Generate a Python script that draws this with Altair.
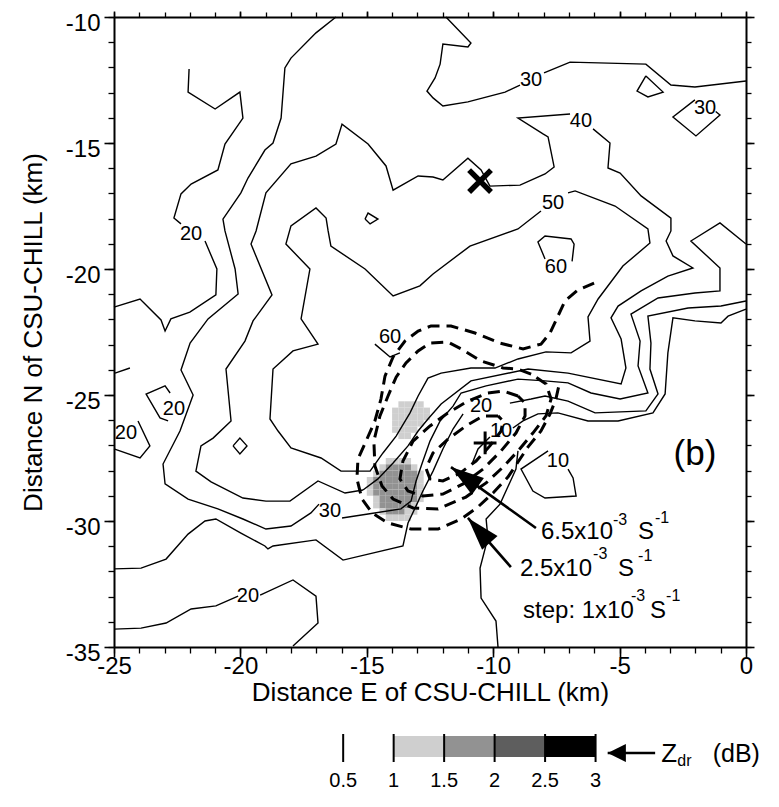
import altair as alt
import pandas as pd

FONT = "Liberation Sans"

# ---------------- solid reflectivity contours (km East, km North) ----------------
c20_nw_a = [(-22.03,-12.06),(-22.07,-12.98),(-21.00,-13.65),(-20.02,-12.98),(-19.90,-14.01),(-20.61,-15.04),
            (-20.89,-16.07),(-21.95,-16.63),(-22.35,-17.02),(-22.63,-17.98),(-22.35,-18.21)]
c20_nw_b = [(-21.40,-18.89),(-20.93,-20.0),(-20.97,-21.03),(-22.0,-21.71),(-22.75,-21.98),(-22.98,-22.46),
            (-23.14,-22.02),(-23.97,-21.19),(-25.0,-21.51)]
c30_w_a = [(-16.22,-10.0),(-17.01,-10.63),(-18.0,-11.63),(-18.24,-12.02),(-18.39,-14.01),(-18.71,-15.0),
           (-19.03,-15.28),(-19.70,-16.39),(-19.98,-16.98),(-20.69,-18.02),(-20.61,-18.49),(-20.21,-20.0),
           (-20.09,-20.99),(-21.28,-21.98),(-21.99,-22.94),(-22.35,-24.01),(-21.87,-25.0),(-22.39,-26.43),
           (-23.06,-27.74),(-22.98,-28.53),(-22.07,-29.13),(-20.89,-29.52),(-19.90,-29.92),(-18.99,-30.32),
           (-18.0,-30.2),(-17.21,-29.68),(-16.89,-29.33)]
c30_w_b = [(-15.98,-29.88),(-14.95,-29.72),(-13.65,-29.52),(-13.25,-29.21),(-13.05,-28.41),(-12.78,-27.62),
           (-12.50,-26.83),(-12.10,-26.03),(-11.59,-25.44),(-11.27,-24.92),(-10.28,-24.64),(-9.02,-24.37),
           (-7.95,-24.44),(-7.04,-24.52),(-6.13,-24.92),(-4.98,-25.16),(-3.88,-24.92),(-4.27,-23.85),
           (-4.19,-22.86),(-4.55,-21.79),(-3.48,-21.15),(-2.02,-20.95),(-1.03,-20.87),(-1.03,-19.96),
           (-2.18,-18.89),(-1.03,-18.17),(0.0,-19.01)]
c40_a = [(-15.15,-28.77),(-15.86,-28.89),(-16.93,-28.41),(-18.04,-29.21),(-18.99,-29.21),(-19.90,-29.09),
         (-21.16,-28.45),(-21.76,-28.02),(-21.56,-27.02),(-21.08,-26.71),(-20.37,-26.03),(-20.57,-23.97),
         (-19.82,-22.86),(-19.50,-22.06),(-18.75,-21.03),(-19.58,-19.01),(-19.38,-18.49),(-18.99,-16.98),
         (-18.0,-15.83),(-17.01,-15.52),(-16.22,-15.04),(-15.98,-14.25),(-14.95,-15.04),(-14.24,-15.91),
         (-13.96,-16.87),(-12.97,-16.31),(-12.38,-16.35),(-11.99,-16.47),(-11.0,-15.6),(-10.48,-16.07),
         (-10.13,-16.71),(-8.94,-16.67),(-7.95,-16.23),(-7.59,-15.95),(-7.83,-14.76),(-8.03,-14.64),
         (-9.02,-14.01),(-6.96,-13.85)]
c40_b = [(-6.05,-14.44),(-5.38,-15.0),(-5.46,-15.99),(-4.98,-16.19),(-4.15,-17.10),(-2.97,-17.98),
         (-2.97,-18.49),(-3.16,-18.89),(-2.89,-19.48),(-2.10,-19.96),(-3.09,-20.28),(-4.15,-20.87),
         (-5.06,-21.47),(-5.34,-21.94),(-4.94,-22.78),(-4.75,-23.93),(-4.94,-24.56),(-7.04,-24.13),
         (-8.62,-23.97),(-10.88,-24.44),(-12.06,-25.36),(-12.58,-25.95),(-12.97,-26.43),(-13.37,-27.02),
         (-13.96,-27.70),(-14.56,-28.33),(-15.15,-28.77)]
c50 = [(-7.04,-16.98),(-6.76,-16.90),(-5.18,-17.5),(-3.88,-18.41),(-3.80,-18.97),(-4.87,-19.88),(-5.85,-21.19),
       (-6.25,-21.90),(-6.17,-22.86),(-6.92,-23.33),(-7.91,-23.29),(-9.02,-23.57),(-9.93,-23.93),(-10.88,-23.93),
       (-12.06,-24.13),(-12.58,-24.33),(-12.97,-25.04),(-13.29,-25.71),(-13.84,-26.63),(-14.36,-27.30),
       (-14.87,-28.02),(-16.02,-28.02),(-16.81,-27.5),(-18.0,-27.1),(-18.51,-26.43),(-18.83,-25.95),
       (-18.71,-23.97),(-17.92,-23.25),(-16.93,-22.98),(-17.60,-21.98),(-17.25,-20.0),(-18.20,-19.01),
       (-18.0,-18.29),(-17.01,-17.58),(-16.61,-17.98),(-16.53,-18.49),(-16.42,-19.09),(-15.07,-20.0),
       (-13.96,-21.07),(-12.90,-20.67),(-12.38,-20.20),(-10.92,-19.09),(-9.02,-18.41),(-8.11,-17.70)]
c60_cell = [(-7.95,-19.60),(-8.23,-18.93),(-7.95,-18.69),(-6.92,-18.81),(-6.80,-19.01),(-6.88,-19.70)]
c60_core = [(-14.68,-22.98),(-14.08,-23.49),(-13.69,-23.33)]
c30_n_a = [(-11.87,-10.0),(-10.88,-11.03),(-11.0,-11.19),(-11.99,-11.07),(-12.10,-11.87),(-12.30,-12.42),
           (-12.62,-12.94),(-12.38,-13.21),(-11.99,-13.53),(-11.0,-13.37),(-9.53,-12.98),(-8.94,-12.70)]
c30_n_b = [(-7.99,-12.22),(-6.96,-11.79),(-3.96,-11.87),(-2.97,-12.70),(-2.02,-12.78),(0.0,-12.54)]
c30_tri = [(-3.96,-12.34),(-4.31,-12.94),(-3.88,-13.17),(-3.28,-12.98),(-3.96,-12.34)]
c30_dia = [(-2.02,-13.29),(-2.89,-13.97),(-1.98,-14.72),(-1.03,-13.89),(-1.2,-13.75)]
c20_poly = [(-22.78,-24.92),(-22.98,-24.64),(-23.73,-24.96),(-23.18,-25.91),(-22.86,-26.03)]
c20_edge = [(-24.05,-26.03),(-23.58,-27.02),(-23.97,-27.5),(-25.0,-27.14)]
c20_arc = [(-24.96,-24.13),(-24.37,-23.93)]
c20_s_a = [(-25.0,-31.90),(-23.93,-31.87),(-22.94,-31.51),(-22.07,-30.52),(-21.40,-30.0),(-20.97,-29.92),
           (-19.98,-30.48),(-19.03,-30.99),(-18.91,-31.11),(-18.71,-30.99),(-17.01,-30.75),(-15.94,-31.55),
           (-13.57,-30.99),(-13.37,-30.08),(-13.05,-29.40),(-12.78,-28.81),(-12.38,-28.02),(-11.99,-27.14),
           (-11.59,-26.35),(-11.19,-25.75)]
c20_s_b = [(-9.34,-25.32),(-8.50,-25.16),(-7.95,-25.04),(-7.04,-25.24),(-5.97,-25.71),(-3.96,-25.63),
           (-3.48,-24.96),(-3.80,-23.97),(-3.76,-22.94),(-3.88,-21.87),(-2.29,-21.55),(-0.99,-21.47),(0.0,-21.27)]
c10_a = [(0.0,-21.59),(-0.71,-21.87),(-0.99,-22.14),(-2.02,-22.06),(-2.89,-21.94),(-3.09,-23.33),(-3.20,-24.96),
         (-3.68,-25.71),(-5.06,-26.03),(-6.25,-26.03),(-7.44,-25.71),(-8.23,-25.75),(-8.82,-26.03),(-9.22,-26.31)]
c10_b = [(-10.13,-26.67),(-10.60,-27.14),(-10.84,-27.74)]
c10_south = [(-9.81,-35.0),(-9.89,-33.97),(-10.48,-33.06),(-10.52,-31.87),(-10.21,-30.67),(-10.28,-29.92),
             (-9.73,-29.33),(-9.10,-27.94),(-9.02,-27.22)]
c10_cell = [(-7.83,-27.22),(-8.90,-27.94),(-8.43,-28.81),(-7.95,-29.09),(-6.72,-29.01),(-6.84,-28.29),(-7.04,-27.94)]
c20_b_a = [(-25.0,-34.29),(-23.93,-34.25),(-22.94,-34.05),(-21.95,-33.49),(-20.97,-33.37),(-20.09,-32.98)]
c20_b_b = [(-19.22,-32.94),(-17.92,-32.34),(-17.01,-32.98),(-16.93,-34.05),(-17.92,-34.96)]
dia_w = [(-20.29,-27.02),(-20.02,-26.71),(-19.74,-27.02),(-20.02,-27.34),(-20.29,-27.02)]
dia_n = [(-15.07,-18.02),(-14.95,-17.78),(-14.56,-18.02),(-14.87,-18.21),(-15.07,-18.02)]

solid_lines = {
    "c20_nw_a": c20_nw_a, "c20_nw_b": c20_nw_b, "c30_w_a": c30_w_a, "c30_w_b": c30_w_b,
    "c40_a": c40_a, "c40_b": c40_b, "c50": c50, "c60_cell": c60_cell, "c60_core": c60_core,
    "c30_n_a": c30_n_a, "c30_n_b": c30_n_b, "c30_tri": c30_tri, "c30_dia": c30_dia,
    "c20_poly": c20_poly, "c20_edge": c20_edge, "c20_arc": c20_arc, "c20_s_a": c20_s_a,
    "c20_s_b": c20_s_b, "c10_a": c10_a, "c10_b": c10_b, "c10_south": c10_south,
    "c10_cell": c10_cell, "c20_b_a": c20_b_a, "c20_b_b": c20_b_b, "dia_w": dia_w, "dia_n": dia_n,
}

# ---------------- dashed vorticity contours ----------------
d_25 = [(-6.01,-20.56),(-6.65,-20.83),(-7.16,-21.27),(-7.44,-21.87),(-7.75,-22.54),(-8.11,-22.98),(-8.82,-23.17),
        (-9.73,-22.94),(-10.72,-22.54),(-11.67,-22.26),(-12.46,-22.26),(-12.97,-22.46),(-13.49,-22.86),
        (-13.96,-23.49),(-14.28,-24.25),(-14.44,-25.16),(-14.68,-26.03),(-15.03,-26.83),(-15.35,-27.54),
        (-15.39,-28.33),(-15.19,-29.13),(-14.79,-29.68),(-14.16,-30.08),(-13.25,-30.32),(-12.18,-30.32),
        (-11.27,-29.92),(-10.60,-29.44),(-9.97,-28.85),(-9.41,-28.25),(-9.02,-27.66),(-8.62,-27.06),
        (-8.11,-26.43),(-7.75,-25.75),(-7.52,-25.16),(-7.36,-24.44)]
d_35 = [(-8.50,-24.17),(-9.02,-23.97),(-9.61,-23.93),(-10.48,-23.65),(-11.27,-23.17),(-11.79,-22.90),
        (-12.50,-22.94),(-12.97,-23.25),(-13.45,-23.73),(-13.84,-24.29),(-14.16,-25.04),(-14.48,-25.83),
        (-14.72,-26.83),(-14.68,-27.82),(-14.40,-28.61),(-13.96,-29.13),(-13.17,-29.48),(-12.18,-29.52),
        (-11.08,-29.05),(-10.28,-28.49),(-9.61,-27.86),(-9.02,-27.22),(-8.43,-26.51),(-7.91,-25.83),
        (-7.71,-25.16),(-7.91,-24.56),(-8.50,-24.17)]
d_45 = [(-9.02,-25.04),(-9.61,-24.84),(-10.21,-24.92),(-11.0,-25.24),(-11.79,-25.71),(-12.50,-26.23),
        (-13.17,-26.83),(-13.57,-27.62),(-13.69,-28.33),(-13.37,-28.81),(-12.78,-29.01),(-11.99,-28.93),
        (-11.19,-28.53),(-10.40,-27.94),(-9.69,-27.22),(-9.10,-26.51),(-8.74,-25.83),(-8.74,-25.32),(-9.02,-25.04)]
d_55 = [(-9.81,-25.83),(-10.40,-25.83),(-11.08,-26.23),(-11.79,-26.75),(-12.38,-27.30),(-12.66,-27.90),
        (-12.50,-28.33),(-11.99,-28.41),(-11.31,-28.10),(-10.68,-27.62),(-10.13,-27.02),(-9.69,-26.43),
        (-9.61,-26.03),(-9.81,-25.83)]
dashed_lines = {"d_25": d_25, "d_35": d_35, "d_45": d_45, "d_55": d_55}

# ---------------- contour labels ----------------
lab_text = ["20", "20", "20", "30", "20", "30", "30", "40", "50", "60", "60", "20", "10", "10"]
lab_x = [-21.95, -22.63, -24.53, -16.46, -19.70, -8.50, -1.62, -6.53, -7.63, -7.52, -14.08, -10.48, -9.69, -7.44]
lab_y = [-18.61, -25.56, -26.51, -29.60, -32.98, -12.50, -13.61, -14.13, -17.38, -19.92, -22.70, -25.44, -26.43, -27.62]

# ---------------- Zdr field (dB), 0.25 km cells ----------------
zdr_xc = [-14.875, -14.625, -14.375, -14.125, -13.875, -13.625, -13.375, -13.125, -12.875, -12.625, -12.375]
zdr_yc = [-25.125, -25.375, -25.625, -25.875, -26.125, -26.375, -26.625, -26.875, -27.125, -27.375,
          -27.625, -27.875, -28.125, -28.375, -28.625, -28.875, -29.125, -29.375, -29.625, -29.875]
zdr_vals = [
    [0, 0, 0, 0, 0, 0, 0, 0, 0, 0, 0],
    [0, 0, 0, 0, 0, 1.2, 1.2, 1.2, 1.2, 0, 0],
    [0, 0, 0, 0, 1.2, 1.2, 1.2, 1.2, 1.2, 1.2, 0],
    [0, 0, 0, 0, 1.2, 1.2, 1.2, 1.2, 1.2, 1.2, 0],
    [0, 0, 0, 0, 1.2, 1.2, 1.2, 1.2, 1.2, 0, 0],
    [0, 0, 0, 0, 1.2, 1.2, 1.2, 1.2, 0, 0, 0],
    [0, 0, 0, 0, 0, 1.2, 1.2, 0, 0, 0, 0],
    [0, 0, 0, 0, 0, 0, 0, 0, 0, 0, 0],
    [0, 0, 0, 0, 0, 0, 0, 0, 0, 0, 0],
    [0, 0, 0, 0, 0, 0, 0, 0, 0, 0, 0],
    [0, 0, 0, 1.2, 1.2, 1.2, 1.2, 0, 0, 0, 0],
    [0, 0, 1.2, 1.7, 1.7, 1.7, 1.7, 1.2, 0, 0, 0],
    [0, 1.2, 1.7, 1.7, 1.7, 1.7, 1.7, 1.7, 1.2, 0, 0],
    [1.2, 1.7, 1.7, 1.7, 1.7, 1.7, 1.7, 1.7, 1.2, 0, 0],
    [1.2, 1.7, 1.7, 1.7, 1.7, 1.7, 1.7, 1.7, 1.2, 0, 0],
    [1.2, 1.7, 1.7, 1.7, 1.7, 1.7, 1.7, 1.7, 1.2, 0, 0],
    [0, 1.2, 1.7, 1.7, 1.7, 1.7, 1.7, 1.7, 1.2, 0, 0],
    [0, 1.2, 1.7, 1.7, 1.7, 1.7, 1.7, 1.2, 0, 0, 0],
    [0, 0, 1.2, 1.7, 1.7, 1.7, 1.2, 1.2, 0, 0, 0],
    [0, 0, 0, 1.2, 1.2, 1.2, 1.2, 0, 0, 0, 0],
]

# ---------------- markers, arrows, annotations ----------------
plus_xy = (-10.32, -26.90)
cross_xy = (-10.52, -16.51)
arrow_tip_x = [-11.67, -11.00]
arrow_tip_y = [-27.86, -29.88]
arrow_tail_x = [-8.31, -9.30]
arrow_tail_y = [-30.28, -31.83]
arrow_angle = [305.7, 318.7]

ann_text = ["6.5x10", "-3", "S", "-1", "2.5x10", "-3", "S", "-1", "step: 1x10", "-3", "S", "-1"]
ann_x = [-8.11, -5.26, -4.27, -3.60, -8.94, -6.05, -5.06, -4.27, -8.82, -4.55, -3.80, -3.16]
ann_y = [-30.71, -30.16, -30.71, -30.08, -32.18, -31.51, -32.18, -31.59, -33.85, -33.17, -33.85, -33.17]
ann_fs = [24, 16, 24, 16, 24, 16, 24, 16, 24, 16, 24, 16]

# legend (Zdr colour bar)
leg_lo = [1.0, 1.5, 2.0, 2.5]
leg_hi = [1.5, 2.0, 2.5, 3.0]
leg_ticks = [0.5, 1.0, 1.5, 2.0, 2.5, 3.0]
leg_labels = ["0.5", "1", "1.5", "2", "2.5", "3"]

# ================= build frames =================
def lines_df(d):
    rows = []
    for name, pts in d.items():
        for i, (x, y) in enumerate(pts):
            rows.append({"id": name, "i": i, "x": x, "y": y})
    return pd.DataFrame(rows)

solid_df = lines_df(solid_lines)
dashed_df = lines_df(dashed_lines)
labels_df = pd.DataFrame({"x": lab_x, "y": lab_y, "t": lab_text})

half = 0.125
zrows = []
for r, yc in enumerate(zdr_yc):
    for c, xc in enumerate(zdr_xc):
        v = zdr_vals[r][c]
        if v > 0:
            zrows.append({"x0": xc - half, "x1": xc + half, "y0": yc - half, "y1": yc + half, "zdr": v})
zdr_df = pd.DataFrame(zrows)

arrows_df = pd.DataFrame({"tx": arrow_tip_x, "ty": arrow_tip_y, "sx": arrow_tail_x, "sy": arrow_tail_y,
                          "ang": arrow_angle})
ann_df = pd.DataFrame({"x": ann_x, "y": ann_y, "t": ann_text, "fs": ann_fs})

XS = alt.Scale(domain=[-25, 0], nice=False, zero=False)
YS = alt.Scale(domain=[-35, -10], nice=False, zero=False)
ZS = alt.Scale(type="threshold", domain=[1.0, 1.5, 2.0, 2.5],
               range=["#ffffff", "#cfcfcf", "#929292", "#5e5e5e", "#000000"])


def X(f="x"):
    return alt.X(f"{f}:Q", scale=XS, axis=None)


def Y(f="y"):
    return alt.Y(f"{f}:Q", scale=YS, axis=None)


x_major = list(range(-25, 1, 5))
x_minor = list(range(-25, 1, 1))
y_major = list(range(-35, -9, 5))
y_minor = list(range(-35, -9, 1))
common = dict(grid=False, tickColor="black", domainColor="black", labelColor="black", titleColor="black")

ax_b_major = alt.Axis(orient="bottom", values=x_major, tickSize=10, tickWidth=1.6, domain=True, domainWidth=2,
                      labelFont=FONT, labelFontSize=24, labelPadding=-3, labelExpr="toString(datum.value)",
                      labelFlush=False, labelOverlap=False, title="Distance E of CSU-CHILL (km)",
                      titleFont=FONT, titleFontSize=26, titleFontWeight="normal", titlePadding=1, **common)
ax_b_minor = alt.Axis(orient="bottom", values=x_minor, tickSize=6, tickWidth=1.3, domain=False, labels=False,
                      title=None, **common)
ax_t_major = alt.Axis(orient="top", values=x_major, tickSize=6, tickWidth=1.6, domain=True, domainWidth=2,
                      labels=False, title=None, **common)
ax_t_minor = alt.Axis(orient="top", values=x_minor, tickSize=5, tickWidth=1.3, domain=False, labels=False,
                      title=None, **common)
ax_l_major = alt.Axis(orient="left", values=y_major, tickSize=10, tickWidth=1.6, domain=True, domainWidth=2,
                      labelFont=FONT, labelFontSize=24, labelPadding=4, labelOffset=6,
                      labelExpr="toString(datum.value)",
                      labelFlush=False, labelOverlap=False, title="Distance N of CSU-CHILL (km)",
                      titleFont=FONT, titleFontSize=26, titleFontWeight="normal", titlePadding=19, **common)
ax_l_minor = alt.Axis(orient="left", values=y_minor, tickSize=6, tickWidth=1.3, domain=False, labels=False,
                      title=None, **common)
ax_r_major = alt.Axis(orient="right", values=y_major, tickSize=8, tickWidth=1.6, domain=True, domainWidth=2,
                      labels=False, title=None, **common)
ax_r_minor = alt.Axis(orient="right", values=y_minor, tickSize=5, tickWidth=1.3, domain=False, labels=False,
                      title=None, **common)

anchor = pd.DataFrame({"x": [-25.0], "y": [-35.0]})


def carrier(xa, ya):
    return alt.Chart(anchor).mark_point(opacity=0).encode(
        x=alt.X("x:Q", scale=XS, axis=xa), y=alt.Y("y:Q", scale=YS, axis=ya))


zdr_layer = alt.Chart(zdr_df).mark_rect(strokeWidth=0).encode(
    x=X("x0"), x2="x1:Q", y=Y("y0"), y2="y1:Q",
    color=alt.Color("zdr:Q", scale=ZS, legend=None))

solid_layer = alt.Chart(solid_df).mark_line(color="black", strokeWidth=1.4, strokeJoin="miter").encode(
    x=X(), y=Y(), detail="id:N", order="i:Q")

dashed_layer = alt.Chart(dashed_df).mark_line(color="black", strokeWidth=3, strokeDash=[12, 7]).encode(
    x=X(), y=Y(), detail="id:N", order="i:Q")

label_layer = alt.Chart(labels_df).mark_text(font=FONT, fontSize=20, color="black", align="center",
                                             baseline="middle").encode(x=X(), y=Y(), text="t:N")

plus_layer = alt.Chart(pd.DataFrame({"x": [plus_xy[0]], "y": [plus_xy[1]]})).mark_point(
    shape="M-1,0L1,0M0,-1L0,1", filled=False, color="black", strokeWidth=3, size=520, opacity=1
).encode(x=X(), y=Y())

cross_layer = alt.Chart(pd.DataFrame({"x": [cross_xy[0]], "y": [cross_xy[1]]})).mark_point(
    shape="M-1,-1L1,1M-1,1L1,-1", filled=False, color="black", strokeWidth=5.5, size=480, opacity=1
).encode(x=X(), y=Y())

shaft_layer = alt.Chart(arrows_df).mark_rule(color="black", strokeWidth=2.6).encode(
    x=X("sx"), y=Y("sy"), x2="tx:Q", y2="ty:Q")

head_layer = alt.Chart(arrows_df).mark_point(
    shape="M0,0L0.62,2L-0.62,2Z", filled=True, color="black", size=1100, opacity=1
).encode(x=X("tx"), y=Y("ty"), angle=alt.Angle("ang:Q", scale=None))

ann_layer = alt.Chart(ann_df).mark_text(font=FONT, color="black", align="left", baseline="alphabetic").encode(
    x=X(), y=Y(), text="t:N", size=alt.Size("fs:Q", scale=None))

panel_b = alt.Chart(pd.DataFrame({"x": [-2.02], "y": [-27.35], "t": ["(b)"]})).mark_text(
    font=FONT, fontSize=35, color="black", align="center", baseline="middle").encode(x=X(), y=Y(), text="t:N")

main = alt.layer(
    zdr_layer, solid_layer, dashed_layer, label_layer, plus_layer, cross_layer, shaft_layer, head_layer,
    ann_layer, panel_b,
    carrier(ax_b_major, ax_l_major), carrier(ax_b_minor, ax_l_minor),
    carrier(ax_t_major, ax_r_major), carrier(ax_t_minor, ax_r_minor),
).resolve_axis(x="independent", y="independent").properties(width=632, height=630)

# ---------------- Zdr colour bar ----------------
LS = alt.Scale(domain=[-1.77, 4.49], nice=False, zero=False)
seg_df = pd.DataFrame({"lo": leg_lo, "hi": leg_hi, "zdr": leg_lo})
tick_df = pd.DataFrame({"t": leg_ticks, "lab": leg_labels})

bar = alt.Chart(seg_df).mark_rect(strokeWidth=0).encode(
    x=alt.X("lo:Q", scale=LS, axis=None), x2="hi:Q", y=alt.value(2), y2=alt.value(23),
    color=alt.Color("zdr:Q", scale=ZS, legend=None))
bar_ticks = alt.Chart(tick_df).mark_rule(color="black", strokeWidth=2).encode(
    x=alt.X("t:Q", scale=LS, axis=None), y=alt.value(0), y2=alt.value(28))
bar_labels = alt.Chart(tick_df).mark_text(font=FONT, fontSize=20, color="black", baseline="alphabetic").encode(
    x=alt.X("t:Q", scale=LS, axis=None), y=alt.value(53), text="lab:N")
zarrow_df = pd.DataFrame({"tip": [3.12], "tail": [3.59]})
zarrow = alt.Chart(zarrow_df).mark_rule(color="black", strokeWidth=2.6).encode(
    x=alt.X("tail:Q", scale=LS, axis=None), x2="tip:Q", y=alt.value(19))
zhead = alt.Chart(zarrow_df).mark_point(shape="M0,0L1,2L-1,2Z", filled=True, color="black", size=330,
                                        opacity=1, angle=270).encode(
    x=alt.X("tip:Q", scale=LS, axis=None), y=alt.value(19))
ztext_df = pd.DataFrame({"x": [3.65, 3.81, 4.16], "t": ["Z", "dr", "(dB)"], "fs": [26, 16, 25],
                         "yy": [28, 32, 28]})
ztext = alt.Chart(ztext_df).mark_text(font=FONT, color="black", align="left", baseline="alphabetic").encode(
    x=alt.X("x:Q", scale=LS, axis=None), y=alt.Y("yy:Q", scale=None), text="t:N",
    size=alt.Size("fs:Q", scale=None))

legend = alt.layer(bar, bar_ticks, bar_labels, zarrow, zhead, ztext).properties(width=632, height=56)

chart = alt.vconcat(main, legend, spacing=28).properties(
    padding={"left": 12, "top": 2, "right": 10, "bottom": 3}, background="white"
).configure_view(stroke="transparent", strokeWidth=0)

chart.save("out.html", embed_options={"renderer": "svg", "actions": False})
